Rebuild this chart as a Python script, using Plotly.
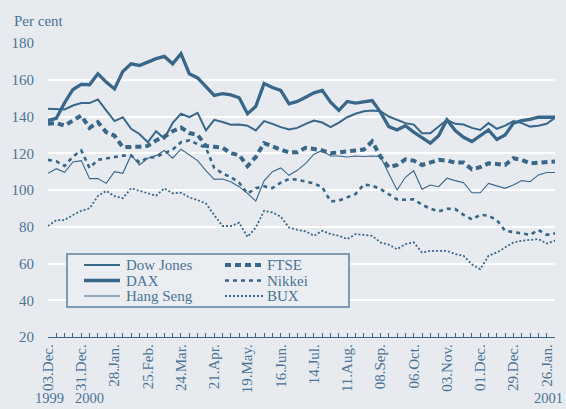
import plotly.graph_objects as go
import pandas as pd

# ---------------- data (weekly, per cent of base) ----------------
start_date = "1999-12-03"
n_weeks = 62

dow_jones = [144.2, 143.8, 143.8, 146, 147.3, 147.3, 149.3, 143.3, 137.5, 139.6,
             133.3, 130.5, 126, 132, 128, 136.5, 141.5, 139.6, 142, 132.4,
             138.2, 137, 135.5, 135.6, 135, 132.4, 137.5, 136, 134.2, 132.9,
             133.8, 136, 137.8, 136.7, 134.2, 136.7, 139.6, 141.5, 142.9, 143.3,
             142.9, 140, 138.4, 136.4, 135.6, 130.9, 130.9, 134.5, 138.2, 136,
             135.6, 133.8, 132.7, 136.4, 133.3, 135, 137.5, 136.4, 134.5, 135,
             136, 139.3]

dax = [137.8, 139, 147.5, 154.7, 157.5, 157.3, 163.3, 158.7, 155, 164.5,
       168.7, 167.8, 169.6, 171.5, 172.7, 168.7, 174.2, 163.3, 161, 156,
       151.5, 152.4, 151.8, 150.2, 141.5, 145.5, 158, 155.8, 154.2, 146.9,
       148.2, 150.5, 152.9, 154.2, 147.8, 143.3, 148.2, 147.3, 148.2, 148.7,
       142.4, 134.5, 132.7, 135, 131.5, 128.7, 125.5, 129.6, 138.2, 132.4,
       128.7, 126.4, 129.6, 132.7, 127.5, 130, 136.4, 137.8, 138.5, 139.6,
       139.6, 139.6]

hang_seng = [109.1, 111.6, 109.6, 115.3, 116, 106.2, 106.2, 103.6, 110, 109.1,
             119.1, 113.6, 117.3, 118.7, 121.5, 117.3, 122.2, 119.3, 116, 110.5,
             105.8, 106, 104.5, 101.8, 98.2, 94, 105, 110, 112, 108,
             110.7, 114.5, 119.5, 121.5, 118.5, 118.5, 118, 118.5, 118.2, 118.5,
             118.2, 109, 100, 106.9, 110.5, 100.4, 102.7, 101.8, 106.4, 105.1,
             104, 98.5, 98.5, 103.6, 102.2, 100.9, 102.7, 105.1, 104.5, 108.2,
             109.5, 109.5]

ftse = [136, 136.4, 135.1, 137.8, 140.5, 133.8, 136.9, 131.5, 129.6, 123.3,
        123.3, 123.6, 124, 127, 129, 132, 134, 131, 130, 124,
        123.5, 123, 120, 119, 113, 118, 125.5, 123.5, 122, 120.5,
        120.5, 123, 122.5, 121.5, 120, 120.5, 121, 122, 122, 126.4,
        118.2, 112.4, 113.6, 116.7, 116, 113.6, 114.9, 116.4, 116, 114.9,
        114.9, 111.3, 112.4, 114.5, 114.2, 113.6, 117.3, 116.4, 114.5, 114.9,
        115.3, 115.5]

nikkei = [116.4, 115.6, 113.1, 118.2, 121.5, 112, 116.4, 117.1, 117.8, 118.7,
          118.7, 115.1, 117.5, 118, 120, 122, 126, 127, 125, 123,
          112, 109, 107, 104, 98, 101, 102, 101, 104, 106,
          105.6, 104.7, 103.6, 101.5, 93.8, 94.2, 96, 97.8, 102.9, 102.4,
          100.5, 97.8, 94.9, 94.7, 94.9, 92, 89.8, 88.4, 89.8, 89.6,
          86.5, 84, 86.5, 86, 83.6, 77.8, 77.3, 76.4, 75.6, 78.2,
          75.6, 76.4]

bux = [80.4, 83.6, 83.6, 86.4, 88.7, 90, 96.7, 99.5, 96.7, 95.5,
       100.9, 99.6, 98.2, 96.9, 100.9, 98.2, 98.5, 96, 94.5, 92.7,
       86.4, 80.4, 80.4, 82.2, 74.5, 79.6, 88.7, 87.8, 85.5, 79.6,
       78.3, 77.5, 75.1, 77.8, 76, 75.1, 73.3, 76, 75.6, 75.1,
       71.5, 70.2, 67.8, 70.5, 71.5, 66, 66.9, 66.9, 66.9, 65.1,
       64.2, 59.6, 56.9, 64.2, 66, 68.7, 71.5, 72.4, 72.7, 73.3,
       70.9, 72.4]

tick_labels = ["03.Dec.", "31.Dec.", "28.Jan.", "25.Feb.", "24.Mar.", "21.Apr.",
               "19.May.", "16.Jun.", "14.Jul.", "11.Aug.", "08.Sep.", "06.Oct.",
               "03.Nov.", "01.Dec.", "29.Dec.", "26.Jan."]
y_ticks = [20, 40, 60, 80, 100, 120, 140, 160, 180]
year_labels = ["1999", "2000", "2001"]

# ---------------- styling ----------------
LINE = "#386789"
TEXT = "#4c7394"
BG = "#e7ebf0"
FONT = "Liberation Serif"
W, H = 566, 409
ML, MR, MT, MB = 48, 11, 43, 72

weeks = pd.date_range(start_date, periods=n_weeks, freq="7D")
tick_dates = list(weeks[::4][:len(tick_labels)])

series = [
    ("Dow Jones", dow_jones, dict(width=2.0, dash="solid")),
    ("FTSE", ftse, dict(width=4.0, dash="6px,4px")),
    ("DAX", dax, dict(width=3.3, dash="solid")),
    ("Nikkei", nikkei, dict(width=2.6, dash="4px,4px")),
    ("Hang Seng", hang_seng, dict(width=1.1, dash="solid")),
    ("BUX", bux, dict(width=1.8, dash="2px,2px")),
]
for name, vals, _ in series:
    assert len(vals) == n_weeks, name

fig = go.Figure()
draw_order = ["BUX", "Hang Seng", "Nikkei", "FTSE", "Dow Jones", "DAX"]
lookup = {s[0]: s for s in series}
for name in draw_order:
    _, vals, st = lookup[name]
    fig.add_trace(go.Scatter(x=weeks, y=vals, mode="lines", name=name,
                             line=dict(color=LINE, width=st["width"], dash=st["dash"]),
                             showlegend=False, hoverinfo="skip"))

# ---------------- manual legend (two columns, three rows) ----------------
pw, ph = W - ML - MR, H - MT - MB


def px_x(p):
    return (p - ML) / pw


def px_y(p):
    return (H - MB - p) / ph


shapes = [dict(type="rect", xref="paper", yref="paper",
               x0=px_x(67), x1=px_x(349), y0=px_y(307), y1=px_y(254),
               line=dict(color="#7f9bb3", width=2), fillcolor="#eaedf2", layer="above")]
annotations = []
legend_cols = [["Dow Jones", "DAX", "Hang Seng"], ["FTSE", "Nikkei", "BUX"]]
col_x = [(84, 120, 124), (225, 263, 265)]
row_y = [265, 280.5, 296]
for ci, col in enumerate(legend_cols):
    x0, x1, tx = col_x[ci]
    for ri, name in enumerate(col):
        st = lookup[name][2]
        shapes.append(dict(type="line", xref="paper", yref="paper",
                           x0=px_x(x0), x1=px_x(x1), y0=px_y(row_y[ri]), y1=px_y(row_y[ri]),
                           line=dict(color=LINE, width=st["width"], dash=st["dash"]),
                           layer="above"))
        annotations.append(dict(xref="paper", yref="paper", x=px_x(tx), y=px_y(row_y[ri]),
                                text=name, showarrow=False, xanchor="left", yanchor="middle",
                                font=dict(family=FONT, size=15, color=TEXT)))

# "Per cent" and year labels
annotations.append(dict(xref="paper", yref="paper", x=px_x(12), y=px_y(21), text="Per cent",
                        showarrow=False, xanchor="left", yanchor="middle",
                        font=dict(family=FONT, size=15, color=TEXT)))
year_pos = [49, 89, 548]
for lbl, xp in zip(year_labels, year_pos):
    annotations.append(dict(xref="paper", yref="paper", x=px_x(xp), y=px_y(408), text=lbl,
                            showarrow=False, xanchor="center", yanchor="bottom",
                            font=dict(family=FONT, size=14.5, color=TEXT)))

fig.update_layout(
    width=W, height=H,
    margin=dict(l=ML, r=MR, t=MT, b=MB, pad=0),
    paper_bgcolor=BG, plot_bgcolor=BG,
    font=dict(family=FONT, size=15, color=TEXT),
    shapes=shapes, annotations=annotations,
    showlegend=False,
    xaxis=dict(
        type="date", range=[weeks[0], weeks[-1]],
        tickmode="array", tickvals=tick_dates, ticktext=tick_labels,
        tickangle=-90, tickfont=dict(family=FONT, size=15, color=TEXT),
        ticks="inside", ticklen=4, tickwidth=1, tickcolor=LINE,
        minor=dict(ticks="inside", ticklen=4, tickwidth=1, tickcolor=LINE,
                   dtick=7 * 86400000, tick0=start_date, showgrid=False),
        showline=True, linecolor=LINE, linewidth=1.3,
        showgrid=False, zeroline=False,
    ),
    yaxis=dict(
        range=[20, 180], tickmode="array", tickvals=y_ticks,
        showgrid=True, gridcolor="white", gridwidth=2,
        zeroline=False, showline=False, ticks="",
        ticklabelstandoff=13,
        tickfont=dict(family=FONT, size=15, color=TEXT),
    ),
)

fig.write_html("out.html", config={"displayModeBar": False, "staticPlot": True},
               post_script="document.body.style.margin='0';document.body.style.background='%s';" % BG)
